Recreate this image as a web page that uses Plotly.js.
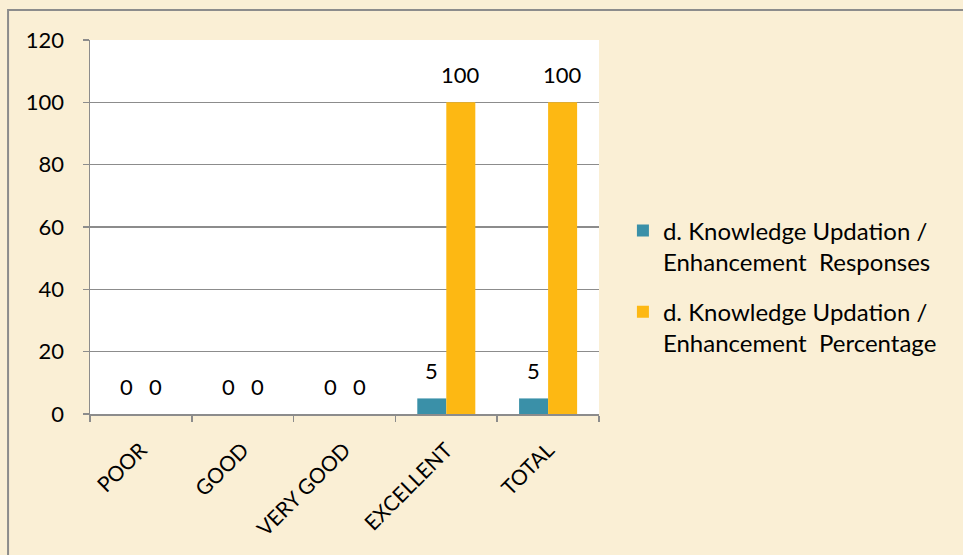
<!DOCTYPE html>
<html>
<head>
<meta charset="utf-8">
<script src="https://cdn.plot.ly/plotly-3.0.1.min.js"></script>
<style>
html,body{margin:0;padding:0;background:#FAEFD5;}
#chart{width:963px;height:555px;}
</style>
</head>
<body>
<div id="chart"></div>
<script>
const categories = ["POOR", "GOOD", "VERY GOOD", "EXCELLENT", "TOTAL"];
const responses = [0, 0, 0, 5, 5];
const percentage = [0, 0, 0, 100, 100];
const seriesNames = [
  "d. Knowledge Updation /<br>Enhancement  Responses",
  "d. Knowledge Updation /<br>Enhancement  Percentage"
];
const yTicks = [0, 20, 40, 60, 80, 100, 120];

const FONT = "Lato, 'Open Sans', sans-serif";

const traces = [
  {type: "bar", x: categories, y: responses, name: seriesNames[0], legendgroup: "a",
   marker: {color: "#3A90A8"}, hoverinfo: "none"},
  {type: "bar", x: categories, y: percentage, name: seriesNames[1], legendgroup: "b",
   marker: {color: "#FDB813"}, hoverinfo: "none"}
];

const annotations = [];
[responses, percentage].forEach((vals, si) => {
  vals.forEach((v, i) => {
    annotations.push({
      x: categories[i], y: v, xref: "x", yref: "y",
      text: String(v), showarrow: false,
      xshift: si === 0 ? -14.5 : 14.5, yanchor: "bottom", yshift: 12,
      font: {family: FONT, size: 22, color: "#000"}
    });
  });
});

const layout = {
  width: 963, height: 555,
  paper_bgcolor: "#FAEFD5",
  plot_bgcolor: "#FFFFFF",
  margin: {l: 90, r: 364, t: 40, b: 141},
  barmode: "group",
  bargap: 0.43,
  bargroupgap: 0,
  font: {family: FONT, size: 22, color: "#000"},
  xaxis: {
    type: "category",
    tickangle: -45,
    tickfont: {family: FONT, size: 21, color: "#000"},
    showline: true, linecolor: "#8C8C8C", linewidth: 1.5,
    ticks: "outside", ticklen: 6, tickcolor: "#8C8C8C", tickwidth: 1.5,
    tickson: "boundaries",
    showgrid: false, zeroline: false,
    ticklabelstandoff: 14
  },
  yaxis: {
    range: [0, 120],
    tickvals: yTicks,
    ticktext: yTicks.map(String),
    tickfont: {family: FONT, size: 22, color: "#000"},
    showline: true, linecolor: "#8C8C8C", linewidth: 1.5,
    ticks: "outside", ticklen: 6, tickcolor: "#8C8C8C", tickwidth: 1.5,
    showgrid: true, gridcolor: "#8C8C8C", gridwidth: 1.2,
    zeroline: false,
    ticklabelstandoff: 14
  },
  legend: {
    x: 1.047, y: 0.34, xanchor: "left", yanchor: "middle",
    font: {family: FONT, size: 24, color: "#000"},
    bgcolor: "rgba(0,0,0,0)",
    traceorder: "grouped",
    tracegroupgap: 16,
    valign: "top",
    itemwidth: 30
  },
  annotations: annotations,
  shapes: [{
    type: "rect", xref: "paper", yref: "paper",
    x0: -0.161, x1: 1.8, y0: -0.6, y1: 1.08,
    line: {color: "#8C8C8C", width: 2}, fillcolor: "rgba(0,0,0,0)",
    layer: "below"
  }],
  showlegend: true
};

Plotly.newPlot("chart", traces, layout, {displayModeBar: false, staticPlot: true});
</script>
</body>
</html>
